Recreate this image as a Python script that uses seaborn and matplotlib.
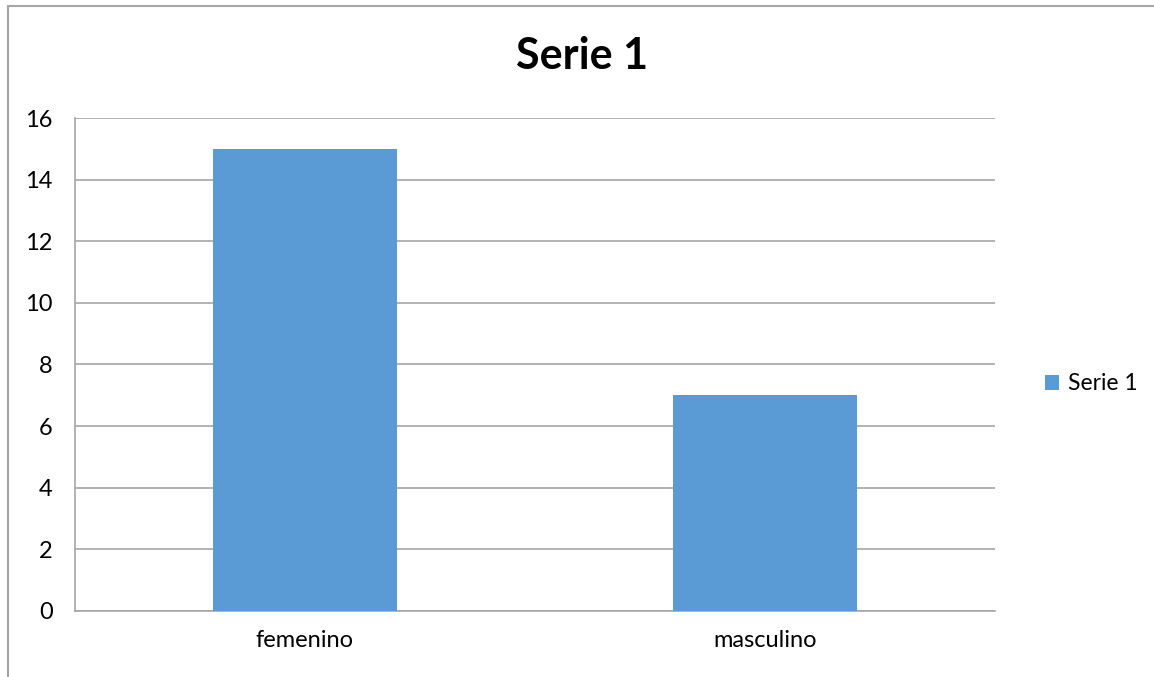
import matplotlib
matplotlib.use("Agg")
import matplotlib.pyplot as plt
from matplotlib.lines import Line2D
from matplotlib.patches import Patch
import pandas as pd
import seaborn as sns

# Datos
categorias = ["femenino", "masculino"]
valores = [15, 7]
serie = "Serie 1"

df = pd.DataFrame({"categoria": categorias, "valor": valores})

sns.set_style("white")
plt.rcParams["font.family"] = ["Lato", "DejaVu Sans"]
plt.rcParams["text.color"] = "black"

fig = plt.figure(figsize=(11.54, 6.77), dpi=100)
ax = fig.add_axes([0.065, 0.0975, 0.797, 0.7282])

sns.barplot(data=df, x="categoria", y="valor", color="#5B9BD5", width=0.4,
            saturation=1, edgecolor="none", linewidth=0, ax=ax, zorder=3)

ax.set_ylim(0, 16)
ax.set_yticks(range(0, 17, 2))
ax.set_xlim(-0.5, 1.5)
ax.yaxis.grid(True, color="#A6A6A6", linewidth=1.2, zorder=0)
ax.set_axisbelow(True)
for s in ["top", "right"]:
    ax.spines[s].set_visible(False)
ax.spines["left"].set_color("#A6A6A6")
ax.spines["bottom"].set_color("#A6A6A6")
ax.spines["left"].set_linewidth(1.2)
ax.spines["bottom"].set_linewidth(1.2)
ax.tick_params(axis="both", length=0, labelsize=17, colors="black")
ax.tick_params(axis="y", pad=16)
ax.tick_params(axis="x", pad=14)
ax.set_xlabel("")
ax.set_ylabel("")

fig.text(0.5045, 0.917, serie, ha="center", va="center", fontsize=31, fontweight="bold")

handle = Patch(facecolor="#5B9BD5", edgecolor="none")
fig.legend([handle], [serie], loc="center left", bbox_to_anchor=(0.888, 0.433),
           frameon=False, fontsize=16.5, handlelength=0.6, handleheight=0.6,
           handletextpad=0.4)

# marco del gráfico
fig.add_artist(Line2D([0.0065, 0.0065], [0, 0.991], color="#A6A6A6", linewidth=1.5))
fig.add_artist(Line2D([0.0065, 1], [0.991, 0.991], color="#A6A6A6", linewidth=1.5))

fig.savefig("out.png", dpi=100)
